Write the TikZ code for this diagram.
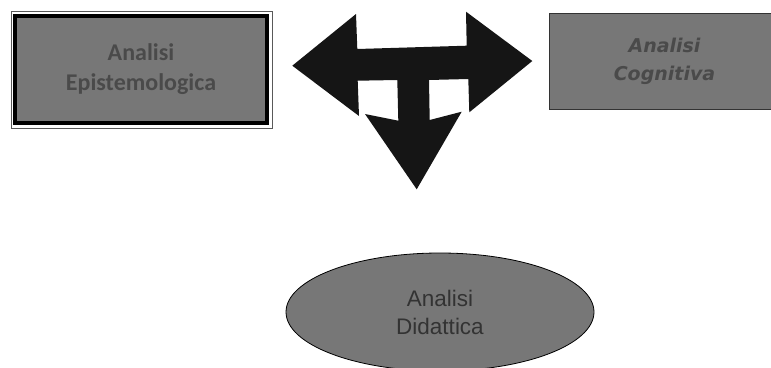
\documentclass[tikz,border=0pt]{standalone}
\usepackage{fontspec}
\setmainfont{Liberation Sans}
\newfontfamily\calib{Carlito}
\newfontfamily\comicf{DejaVu Sans}
\usetikzlibrary{shapes.geometric}
\definecolor{boxgray}{HTML}{777777}
\definecolor{txtgray}{HTML}{4A4A4A}
\definecolor{arrowblack}{HTML}{151515}
\tikzset{
  greybox/.style={fill=boxgray, inner sep=0pt, align=center, text=txtgray},
}
\begin{document}
\begin{tikzpicture}[x=1pt,y=-1pt]
\useasboundingbox (0,0) rectangle (771,367);
% left box
\draw[draw=gray!70!black, line width=0.8pt] (11,11) rectangle (272,128);
\node[greybox, draw=black, line width=4pt, minimum width=252pt, minimum height=107pt,
  font=\calib\bfseries\fontsize{24}{30}\selectfont] (epi) at (141,69)
  {Analisi\\Epistemologica};
% right box
\node[greybox, draw=black!80, line width=0.8pt, minimum width=231pt, minimum height=96pt,
  font=\comicf\bfseries\itshape\fontsize{19}{28}\selectfont] (cog) at (664.5,61)
  {Analisi\\Cognitiva};
% ellipse
\node[ellipse, fill=boxgray, draw=black, line width=0.8pt, inner sep=0pt,
  minimum width=308pt, minimum height=118pt, align=center, text=black!80,
  font=\fontsize{22.5}{28}\selectfont] (did) at (440,312) {Analisi\\Didattica};
% three-way arrow
\fill[arrowblack] (292.3,65.7) -- (356,14) -- (357.3,49) -- (466.7,45.7) -- (466,11.7)
  -- (532.3,61) -- (469.3,112.3) -- (468.3,79) -- (429,80) -- (429.7,120)
  -- (461.7,111.7) -- (416.7,189.3) -- (365,114) -- (398.3,120.7) -- (397.3,80)
  -- (357.7,80.7) -- (359,116) -- cycle;
\end{tikzpicture}
\end{document}
